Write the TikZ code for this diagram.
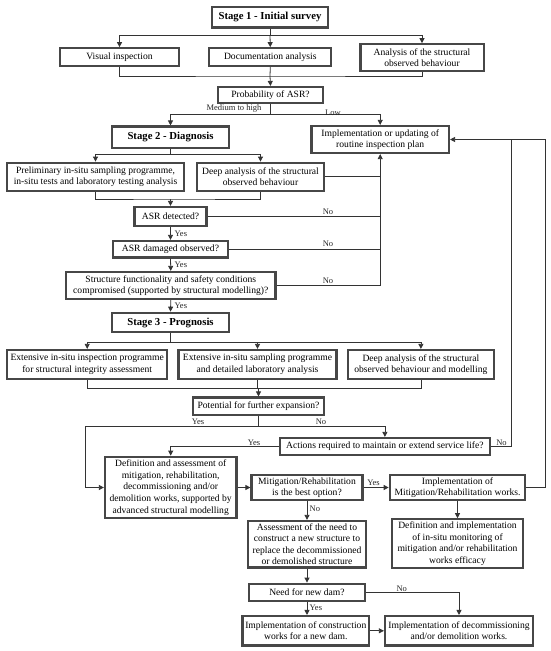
\documentclass[tikz,border=0pt]{standalone}
\usepackage{fontspec}
\setmainfont{Liberation Serif}
\usetikzlibrary{arrows.meta}
\newcommand\fsn{\fontsize{9.6}{11.6}\selectfont}
\newcommand\fsb{\fontsize{10.7}{12.5}\selectfont\bfseries}
\newcommand\fsl{\fontsize{8.5}{10}\selectfont}
\tikzset{
  box/.style={draw=black!72, line width=2.2pt, fill=white, align=center, inner sep=0pt, font=\fsn},
  stagebox/.style={box, font=\fsb},
  conn/.style={draw=black!80, line width=0.8pt},
  arr/.style={conn, -{Triangle[length=5pt,width=5pt]}},
  lab/.style={font=\fsl, inner sep=0.5pt, text=black!85}
}
\begin{document}
\begin{tikzpicture}[x=1pt,y=-1pt]
\useasboundingbox[fill=white] (0,0) rectangle (550,651);
% nodes
\node[stagebox, minimum width=116.5, minimum height=20.5] (s1) at (270,17.2) {Stage 1 - Initial survey};
\node[box, minimum width=119, minimum height=17.5] (vis) at (119.5,57) {Visual inspection};
\node[box, minimum width=122, minimum height=17.5] (doc) at (270.3,57) {Documentation analysis};
\node[box, minimum width=123.2, minimum height=26.5] (ana) at (422,57.5) {Analysis of the structural\\observed behaviour};
\node[box, minimum width=105.5, minimum height=16] (prob) at (270.5,95) {Probability of ASR?};
\node[stagebox, minimum width=117, minimum height=21.5] (s2) at (170.5,137.3) {Stage 2 - Diagnosis};
\node[box, minimum width=137.5, minimum height=27] (impl) at (380.2,139.5) {Implementation or updating of\\routine inspection plan};
\node[box, minimum width=177, minimum height=28] (prel) at (95.5,176.7) {Preliminary in-situ sampling programme,\\in-situ tests and laboratory testing analysis};
\node[box, minimum width=127, minimum height=28] (deep) at (260.5,176.7) {Deep analysis of the structural\\observed behaviour};
\node[box, minimum width=72, minimum height=19] (asrd) at (170.5,216.5) {ASR detected?};
\node[box, minimum width=115.5, minimum height=16.5] (asrdm) at (170.5,249.2) {ASR damaged observed?};
\node[box, minimum width=209.5, minimum height=27] (sfc) at (170.8,285.5) {Structure functionality and safety conditions\\compromised (supported by structural modelling)?};
\node[stagebox, minimum width=117, minimum height=19.5] (s3) at (170.5,322.5) {Stage 3 - Prognosis};
\node[box, minimum width=160.3, minimum height=29] (ext1) at (87.2,364.5) {Extensive in-situ inspection programme\\for structural integrity assessment};
\node[box, minimum width=158, minimum height=29] (ext2) at (257.5,364.5) {Extensive in-situ sampling programme\\and detailed laboratory analysis};
\node[box, minimum width=145.5, minimum height=29] (ext3) at (420.9,364.5) {Deep analysis of the structural\\observed behaviour and modelling};
\node[box, minimum width=131.5, minimum height=17.5] (pot) at (258.5,406.3) {Potential for further expansion?};
\node[box, minimum width=210.2, minimum height=17] (act) at (384.9,446.5) {Actions required to maintain or extend service life?};
\node[box, minimum width=131.5, minimum height=61.5] (def) at (170.7,487.5) {Definition and assessment of\\mitigation, rehabilitation,\\decommissioning and/or\\demolition works, supported by\\advanced structural modelling};
\node[box, minimum width=111, minimum height=24.5] (mit) at (307,487.5) {Mitigation/Rehabilitation\\is the best option?};
\node[box, minimum width=135.5, minimum height=25.5] (imit) at (457.5,487.5) {Implementation of\\Mitigation/Rehabilitation works.};
\node[box, minimum width=117.5, minimum height=46.5] (ass) at (307,544.2) {Assessment of the need to\\construct a new structure to\\replace the decommissioned\\or demolished structure};
\node[box, minimum width=130.5, minimum height=49] (mon) at (457.5,543.8) {Definition and implementation\\of in-situ monitoring of\\mitigation and/or rehabilitation\\works efficacy};
\node[box, minimum width=116.5, minimum height=17] (need) at (307,592.2) {Need for new dam?};
\node[box, minimum width=126.5, minimum height=29.5] (cons) at (305.8,630.8) {Implementation of construction\\works for a new dam.};
\node[box, minimum width=148, minimum height=29.5] (dec) at (459,630.8) {Implementation of decommissioning\\and/or demolition works.};
% coordinates
\coordinate (t1) at (270,35);
\coordinate (m1) at (270,76);
\coordinate (p1) at (270.5,114.3);
\coordinate (q1) at (170.5,154.3);
\coordinate (q2) at (170.5,199);
\coordinate (r1) at (170.5,342.3);
\coordinate (r2) at (258.5,388.3);
\coordinate (u1) at (258.5,426);
\coordinate (u3) at (85,487.5);
\coordinate (v1) at (511.7,139.5);
\coordinate (v2) at (545,139.5);
% stage 1
\draw[conn] (s1.south) -- (t1);
\draw[arr] (t1) -| (vis.north);
\draw[arr] (t1) -| (ana.north);
\draw[arr] (t1) -- (doc.north);
\draw[conn] (vis.south) |- (m1) -| (ana.south);
\draw[conn] (doc.south) -- (m1);
\draw[arr] (m1) -- (prob.north);
\draw[conn] (prob.south) -- (p1);
\draw[arr] (p1) -| (s2.north);
\draw[arr] (p1) -| (impl.north);
\node[lab, anchor=south] (lmh) at (234,113.5) {Medium to high};
\node[lab, anchor=south] (llow) at (333,115.8) {Low};
% stage 2
\draw[conn] (s2.south) -- (q1);
\draw[arr] (q1) -| (prel.north);
\draw[arr] (q1) -| (deep.north);
\draw[conn] (deep.east) -- (deep.east -| impl.south);
\draw[conn] (prel.south) |- (q2) -| (deep.south);
\draw[arr] (q2) -- (asrd.north);
\draw[conn] (asrd.east) -- (asrd.east -| impl.south);
\node[lab, anchor=south] (ln1) at (328,215) {No};
\draw[arr] (asrd.south) -- (asrdm.north);
\node[lab, anchor=west] (ly1) at (174,233.5) {Yes};
\draw[conn] (asrdm.east) -- (asrdm.east -| impl.south);
\node[lab, anchor=south] (ln2) at (328,247.5) {No};
\draw[arr] (asrdm.south) -- (sfc.north);
\node[lab, anchor=west] (ly2) at (174,264.8) {Yes};
\draw[arr] (sfc.east) -| (impl.south);
\node[lab, anchor=south] (ln3) at (328,284.2) {No};
\draw[arr] (sfc.south) -- (s3.north);
\node[lab, anchor=west] (ly3) at (174,306) {Yes};
% stage 3
\draw[conn] (s3.south) -- (r1);
\draw[arr] (r1) -| (ext1.north);
\draw[arr] (r1) -| (ext3.north);
\draw[arr] (ext2.north |- r1) -- (ext2.north);
\draw[conn] (ext1.south) |- (r2) -| (ext3.south);
\draw[conn] (ext2.south) -- (ext2.south |- r2);
\draw[arr] (r2) -- (pot.north);
\draw[conn] (pot.south) -- (u1);
\draw[arr] (u1) -| (u3) -- (def.west);
\draw[arr] (u1) -| (act.north);
\node[lab, anchor=south] (ly4) at (198,425.2) {Yes};
\node[lab, anchor=south] (ln4) at (321,425.2) {No};
\draw[arr] (act.west) -| (def.north);
\node[lab, anchor=south] (ly5) at (254,445.8) {Yes};
\draw[conn] (act.east) -| (v1);
\node[lab, anchor=south] (ln5) at (501.5,445.8) {No};
\draw[arr] (imit.east) -| (v2) -- (impl.east);
\draw[arr] (def.east) -- (mit.west);
\draw[arr] (mit.east) -- (imit.west);
\node[lab, anchor=south] (ly6) at (373.5,486.5) {Yes};
\draw[arr] (mit.south) -- (ass.north);
\node[lab, anchor=west] (ln6) at (309,508.5) {No};
\draw[arr] (imit.south) -- (mon.north);
\draw[arr] (ass.south) -- (need.north);
\draw[arr] (need.south) -- (need.south |- cons.north);
\node[lab, anchor=west] (ly7) at (309,608) {Yes};
\draw[arr] (need.east) -| (dec.north);
\node[lab, anchor=south] (ln7) at (401.7,591.8) {No};
\draw[arr] (cons.east) -- (dec.west);
\end{tikzpicture}
\end{document}
